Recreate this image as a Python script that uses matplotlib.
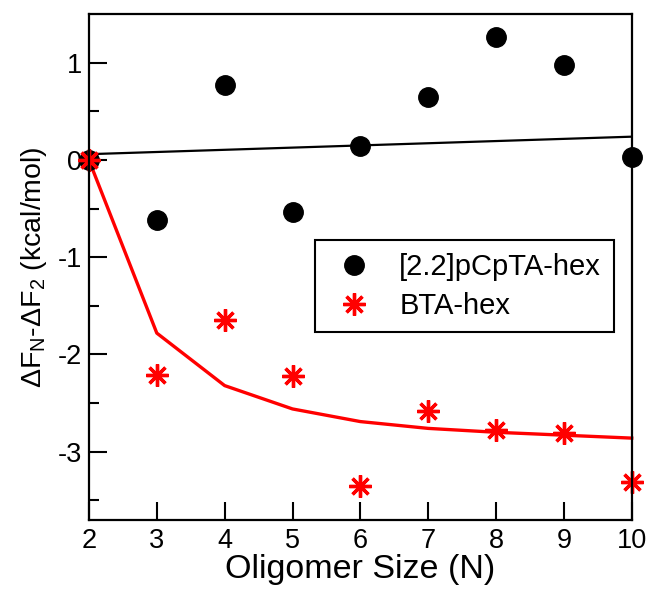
import matplotlib
matplotlib.use("Agg")
import matplotlib.pyplot as plt

plt.rcParams['font.family'] = ['Liberation Sans', 'DejaVu Sans']
plt.rcParams['mathtext.fontset'] = 'custom'
plt.rcParams['mathtext.rm'] = 'Liberation Sans'
plt.rcParams['mathtext.it'] = 'Liberation Sans'
plt.rcParams['mathtext.default'] = 'regular'
plt.rcParams['axes.unicode_minus'] = False

# data
n_size = [2, 3, 4, 5, 6, 7, 8, 9, 10]
pcp_vals = [0.0, -0.62, 0.77, -0.53, 0.14, 0.65, 1.26, 0.98, 0.03]
bta_vals = [0.0, -2.21, -1.65, -2.22, -3.35, -2.58, -2.78, -2.81, -3.31]
bta_fit = [0.0, -1.78, -2.32, -2.56, -2.69, -2.76, -2.80, -2.83, -2.86]
pcp_fit_x = [2, 10]
pcp_fit = [0.06, 0.24]

fig = plt.figure(figsize=(6.54, 5.90), dpi=100)
ax = fig.add_axes([0.136, 0.119, 0.830, 0.857])

ax.plot(pcp_fit_x, pcp_fit, color='black', lw=1.6, clip_on=False)
ax.plot(n_size, bta_fit, color='red', lw=2.4, clip_on=False)
ax.plot(n_size, pcp_vals, 'o', color='black', ms=14, ls='none',
        label='[2.2]pCpTA-hex', clip_on=False)
ax.plot(n_size, bta_vals, marker=(8, 2, 0), color='red', ms=16, mew=2.4,
        ls='none', label='BTA-hex', clip_on=False)

ax.set_xlim(2, 10)
ax.set_ylim(-3.7, 1.5)
ax.set_xticks(range(2, 11))
ax.set_yticks([-3, -2, -1, 0, 1])
ax.set_yticks([-3.5, -2.5, -1.5, -0.5, 0.5], minor=True)
ax.tick_params(direction='in', labelsize=19.5, width=1.5, length=13, pad=6)
ax.tick_params(axis='y', pad=5)
ax.tick_params(which='minor', direction='in', width=1.5, length=7)
for s in ax.spines.values():
    s.set_linewidth(1.6)

ax.set_xlabel('Oligomer Size (N)', fontsize=24.5, labelpad=0)
ax.set_ylabel(r'$\Delta$F$_N$-$\Delta$F$_2$ (kcal/mol)', fontsize=20.5, labelpad=6)

leg = ax.legend(loc='upper left', bbox_to_anchor=(0.416, 0.553), fontsize=21,
                frameon=True, fancybox=False, edgecolor='black', framealpha=1,
                handlelength=1.85, handletextpad=0.62, borderpad=0.43,
                labelspacing=0.38, borderaxespad=0)
leg.get_frame().set_linewidth(1.5)

fig.savefig('out.png', dpi=100)
